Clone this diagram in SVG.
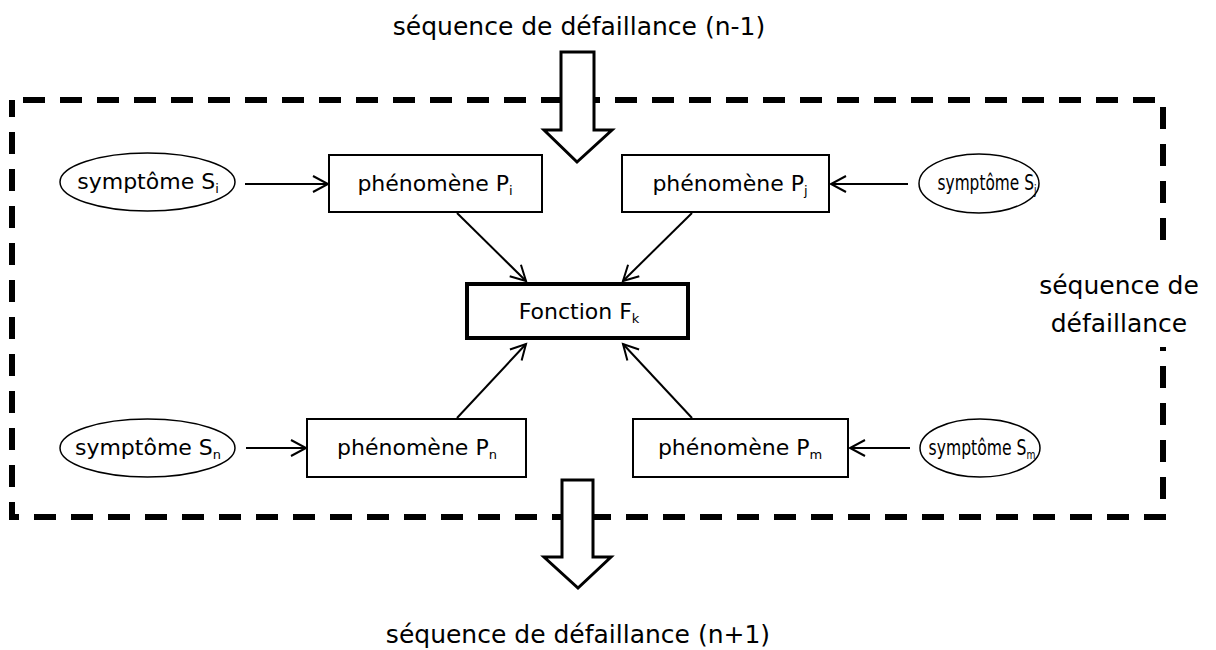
<svg xmlns="http://www.w3.org/2000/svg" width="1216" height="650" viewBox="0 0 1216 650">
<style>
text{font-family:"DejaVu Sans","Liberation Sans",sans-serif;fill:#000}
.lbl{font-size:25px}
.nd{font-size:22px}
.sub{font-size:13px}
.box{fill:#fff;stroke:#000;stroke-width:2}
.ell{fill:#fff;stroke:#000;stroke-width:1.5}
.edge{fill:none;stroke:#000;stroke-width:2}
.big{fill:#fff;stroke:#000;stroke-width:3;stroke-linejoin:miter}
</style>
<defs>
<marker id="ah" markerWidth="20" markerHeight="20" refX="16" refY="10" orient="auto" markerUnits="userSpaceOnUse">
<path d="M1,2 L16,10 L1,18" fill="none" stroke="#000" stroke-width="2"/>
</marker>
</defs>
<g id="frame">
<rect x="12" y="100" width="1151" height="417" fill="none" stroke="#000" stroke-width="6" stroke-dasharray="22 15" stroke-dashoffset="26"/>
</g>
<g id="seq-prev">
<polygon class="big" points="561,52 594,52 594,130 612,130 577,162 544,130 561,130"/>
<text class="lbl" x="579" y="35" text-anchor="middle">séquence de défaillance (n-1)</text>
</g>
<g id="seq-next">
<polygon class="big" points="562,480 593,480 593,557 611,557 578,588 544,557 562,557"/>
<text class="lbl" x="578" y="643" text-anchor="middle">séquence de défaillance (n+1)</text>
</g>
<g id="seq-label">
<rect x="1036" y="250" width="166" height="97" fill="#fff"/>
<text class="lbl" x="1119" y="294" text-anchor="middle">séquence de</text>
<text class="lbl" x="1119" y="332" text-anchor="middle">défaillance</text>
</g>
<g id="connectors">
<line class="edge" x1="245" y1="184" x2="328" y2="184" marker-end="url(#ah)"/>
<line class="edge" x1="908" y1="184" x2="831" y2="184" marker-end="url(#ah)"/>
<line class="edge" x1="246" y1="448" x2="306" y2="448" marker-end="url(#ah)"/>
<line class="edge" x1="910" y1="448" x2="850" y2="448" marker-end="url(#ah)"/>
<line class="edge" x1="457" y1="213" x2="526" y2="281" marker-end="url(#ah)"/>
<line class="edge" x1="692" y1="213" x2="623" y2="281" marker-end="url(#ah)"/>
<line class="edge" x1="457" y1="418" x2="526" y2="344" marker-end="url(#ah)"/>
<line class="edge" x1="692" y1="418" x2="623" y2="344" marker-end="url(#ah)"/>
</g>
<g id="Fk">
<rect x="467" y="284" width="221" height="54" fill="#fff" stroke="#000" stroke-width="4"/>
<text class="nd" x="579" y="319" text-anchor="middle">Fonction F<tspan class="sub" dy="4">k</tspan></text>
</g>
<g id="Pi">
<rect class="box" x="329" y="155" width="213" height="57"/>
<text class="nd" x="435" y="191" text-anchor="middle">phénomène P<tspan class="sub" dy="4">i</tspan></text>
</g>
<g id="Pj">
<rect class="box" x="622" y="155" width="207" height="57"/>
<text class="nd" x="730" y="191" text-anchor="middle">phénomène P<tspan class="sub" dy="4">j</tspan></text>
</g>
<g id="Pn">
<rect class="box" x="307" y="419" width="219" height="58"/>
<text class="nd" x="417" y="455" text-anchor="middle">phénomène P<tspan class="sub" dy="4">n</tspan></text>
</g>
<g id="Pm">
<rect class="box" x="633" y="419" width="215" height="58"/>
<text class="nd" x="740" y="455" text-anchor="middle">phénomène P<tspan class="sub" dy="4">m</tspan></text>
</g>
<g id="Si">
<ellipse class="ell" cx="147.5" cy="182" rx="87.5" ry="29"/>
<text class="nd" x="148" y="189" text-anchor="middle">symptôme S<tspan class="sub" dy="4">i</tspan></text>
</g>
<g id="Sj">
<ellipse class="ell" cx="979" cy="183.5" rx="60" ry="29.5"/>
<text class="nd" x="987" y="190" text-anchor="middle" transform="translate(987 0) scale(0.7 1) translate(-987 0)">symptôme S<tspan class="sub" dy="4">j</tspan></text>
</g>
<g id="Sn">
<ellipse class="ell" cx="147.5" cy="448" rx="87.5" ry="29"/>
<text class="nd" x="148" y="455" text-anchor="middle">symptôme S<tspan class="sub" dy="4">n</tspan></text>
</g>
<g id="Sm">
<ellipse class="ell" cx="980" cy="448" rx="60" ry="29"/>
<text class="nd" x="982" y="455" text-anchor="middle" transform="translate(982 0) scale(0.71 1) translate(-982 0)">symptôme S<tspan class="sub" dy="4">m</tspan></text>
</g>
</svg>
